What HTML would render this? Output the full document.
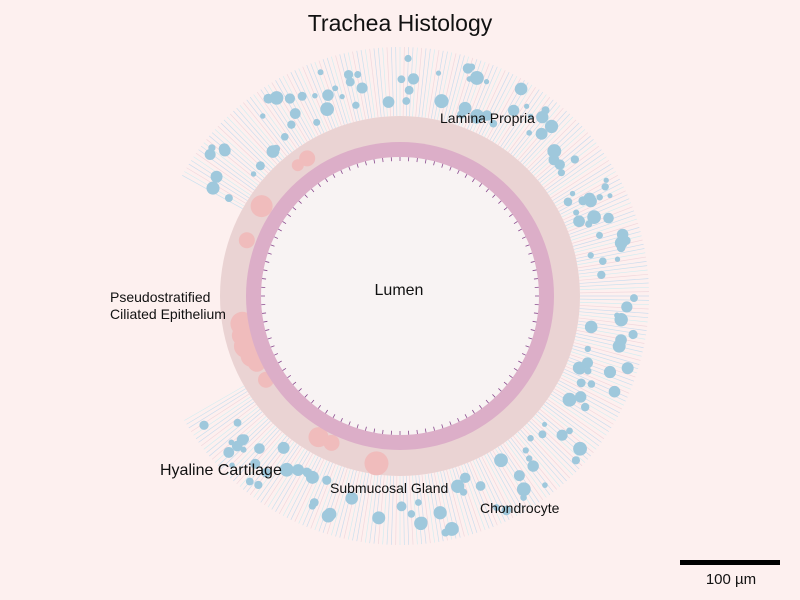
<!DOCTYPE html>
<html><head><meta charset="utf-8"><style>
body{margin:0;background:#fdf0ef;}
svg{display:block;font-family:"Liberation Sans",sans-serif;}
</style></head><body>
<svg id="chart" width="800" height="600" viewBox="0 0 800 600">
<rect width="800" height="600" fill="#fdf0ef"/>
<g id="cart" opacity="0.75"></g>
<g id="chond"></g>
<circle cx="400" cy="296" r="180" fill="#ead3d3"/>
<g id="glands"></g>
<circle cx="400" cy="296" r="154" fill="#dcaec8"/>
<circle cx="400" cy="296" r="139" fill="#f8f3f3"/>
<g id="cilia"></g>
<text x="400" y="31" font-size="23" text-anchor="middle" fill="#111">Trachea Histology</text>
<text x="440" y="123" font-size="14" fill="#111">Lamina Propria</text>
<text x="399" y="295" font-size="16" text-anchor="middle" fill="#111">Lumen</text>
<text x="110" y="302" font-size="14" fill="#111">Pseudostratified</text>
<text x="110" y="319" font-size="14" fill="#111">Ciliated Epithelium</text>
<text x="160" y="475" font-size="16" fill="#111">Hyaline Cartilage</text>
<text x="330" y="493" font-size="14" fill="#111">Submucosal Gland</text>
<text x="480" y="513" font-size="14" fill="#111">Chondrocyte</text>
<rect x="680" y="560" width="100" height="5" fill="#000"/>
<text x="731" y="584" font-size="15" text-anchor="middle" fill="#111">100 µm</text>
</svg>
<script>
const CX=400, CY=296;
// gland centers in polar (angle deg, screen coords) and radius
const glandAngles=[236,232,213,200,170,166,162,158,155,148,120,115,98];
const glandDist=[166,166,165,163,160,163,162,160,158,158,163,162,169];
const glandSizes=[8,6,11,8,12,10,12,11,9,8,10,8,12];
const NS="http://www.w3.org/2000/svg";
function P(a,r){const t=a*Math.PI/180;return [CX+r*Math.cos(t),CY+r*Math.sin(t)];}
const cart=document.getElementById('cart');
const cols=['#b9dcef','#c6ecf2','#ecd0d8','#bcd6ee'];
let k=0;
for(let a=209;a<=510;a+=1.0){
  const [x1,y1]=P(a,180),[x2,y2]=P(a,249);
  const l=document.createElementNS(NS,'line');
  l.setAttribute('x1',x1);l.setAttribute('y1',y1);l.setAttribute('x2',x2);l.setAttribute('y2',y2);
  l.setAttribute('stroke',cols[k++%4]);l.setAttribute('stroke-width','0.7');
  
  
  cart.appendChild(l);
}
// chondrocytes: deterministic texture
let s=12345;function rnd(){s=(s*16807)%2147483647;return s/2147483647;}
const chond=document.getElementById('chond');
for(let i=0;i<170;i++){
  const a=209+rnd()*301, r=190+rnd()*52, rad=2.5+rnd()*4.5;
  const [x,y]=P(a,r);
  const c=document.createElementNS(NS,'circle');
  c.setAttribute('cx',x);c.setAttribute('cy',y);c.setAttribute('r',rad);c.setAttribute('fill','#9fc8dc');
  
  
  chond.appendChild(c);
}
const gl=document.getElementById('glands');
glandAngles.forEach((a,i)=>{
  const [x,y]=P(a,glandDist[i]);
  const c=document.createElementNS(NS,'circle');
  c.setAttribute('cx',x);c.setAttribute('cy',y);c.setAttribute('r',glandSizes[i]);c.setAttribute('fill','#f0bcbc');
  
  
  gl.appendChild(c);
});
const cil=document.getElementById('cilia');
for(let a=0;a<360;a+=3.6){
  const [x1,y1]=P(a,139),[x2,y2]=P(a,135);
  const l=document.createElementNS(NS,'line');
  l.setAttribute('x1',x1);l.setAttribute('y1',y1);l.setAttribute('x2',x2);l.setAttribute('y2',y2);
  l.setAttribute('stroke','#8a4a8e');l.setAttribute('stroke-width','0.8');
  
  
  cil.appendChild(l);
}
</script>
</body></html>
